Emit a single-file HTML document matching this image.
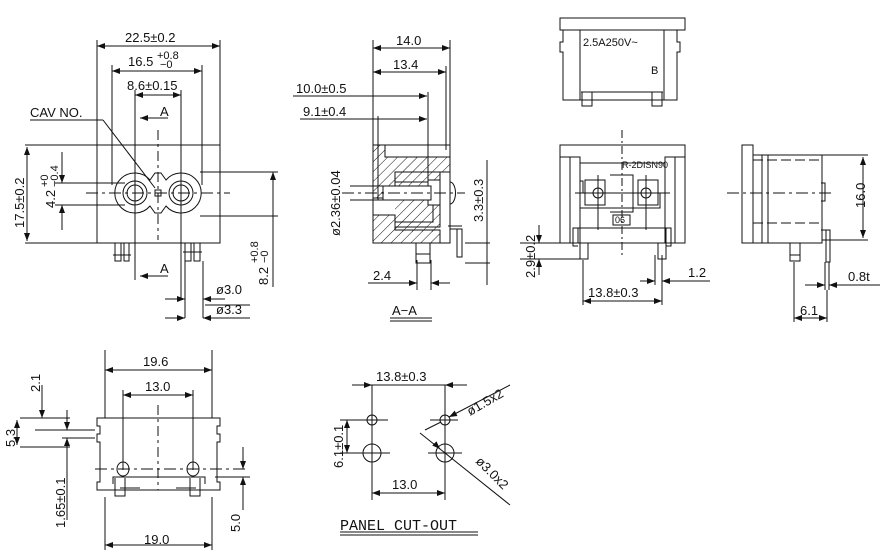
<!DOCTYPE html>
<html><head><meta charset="utf-8"><style>
html,body{margin:0;padding:0;background:#fff;}
svg{display:block}
text{font-family:"Liberation Sans",sans-serif;font-size:13px;fill:#111}
.s{font-size:11px}
</style></head><body>
<svg width="890" height="554" viewBox="0 0 890 554" xmlns="http://www.w3.org/2000/svg">
<defs>
<marker id="a" markerWidth="8" markerHeight="6" refX="8" refY="3" orient="auto-start-reverse"><path d="M0,0 L8,3 L0,6 z" fill="#111"/></marker>
<pattern id="h" width="7" height="7" patternUnits="userSpaceOnUse" patternTransform="rotate(45)"><line x1="0" y1="0" x2="0" y2="7" stroke="#111" stroke-width="1"/></pattern>
</defs>
<g stroke="#111" stroke-width="1" fill="none">
<!-- ===== FRONT VIEW ===== -->
<rect x="97" y="145" width="123" height="98"/>
<line x1="97" y1="40" x2="97" y2="145"/><line x1="220" y1="40" x2="220" y2="145"/>
<line x1="97" y1="46" x2="220" y2="46" marker-start="url(#a)" marker-end="url(#a)"/>
<line x1="112" y1="65" x2="112" y2="185"/><line x1="202" y1="65" x2="202" y2="185"/>
<line x1="112" y1="71" x2="202" y2="71" marker-start="url(#a)" marker-end="url(#a)"/>
<line x1="135" y1="90" x2="135" y2="280"/><line x1="181" y1="90" x2="181" y2="300"/>
<line x1="135" y1="95" x2="181" y2="95" marker-start="url(#a)" marker-end="url(#a)"/>
<line x1="140" y1="118" x2="168" y2="118" marker-start="url(#a)"/>
<line x1="140" y1="276" x2="168" y2="276" marker-start="url(#a)"/>
<line x1="30" y1="120" x2="103" y2="120"/><line x1="103" y1="120" x2="155" y2="188"/>
<path d="M150,180 A20,20 0 1 0 150,206 L155,213 L161,213 L166,206 A20,20 0 1 0 166,180 L161,173 L155,173 Z"/>
<circle cx="135" cy="193" r="12"/><circle cx="135" cy="193" r="8"/>
<circle cx="181" cy="193" r="12"/><circle cx="181" cy="193" r="8"/>
<rect x="155" y="190" width="6" height="6"/>
<line x1="86" y1="193" x2="230" y2="193" stroke-dasharray="12,4,3,4"/>
<line x1="158" y1="130" x2="158" y2="240" stroke-dasharray="10,4,3,4"/>
<line x1="25" y1="145" x2="97" y2="145"/><line x1="25" y1="243" x2="97" y2="243"/>
<line x1="27" y1="147" x2="27" y2="241" marker-start="url(#a)" marker-end="url(#a)"/>
<line x1="55" y1="183" x2="125" y2="183"/><line x1="55" y1="205" x2="125" y2="205"/>
<line x1="62" y1="152" x2="62" y2="183" marker-end="url(#a)"/><line x1="62" y1="230" x2="62" y2="205" marker-end="url(#a)"/>
<line x1="200" y1="172" x2="278" y2="172"/><line x1="200" y1="216" x2="278" y2="216"/>
<line x1="273" y1="172" x2="273" y2="287" marker-start="url(#a)"/>
<path d="M115,243 v18 h6 v-18 M124,243 v18 h5 v-18 M113,255 h18"/>
<path d="M185,243 v18 h6 v-18 M194,243 v18 h6 v-18 M183,252 h19"/>
<line x1="185" y1="261" x2="185" y2="318"/><line x1="203" y1="261" x2="203" y2="318"/>
<line x1="165" y1="299" x2="185" y2="299" marker-end="url(#a)"/><line x1="225" y1="299" x2="203" y2="299" marker-end="url(#a)"/>
<line x1="165" y1="318" x2="185" y2="318" marker-end="url(#a)"/><line x1="250" y1="318" x2="203" y2="318" marker-end="url(#a)"/>
<line x1="205" y1="305" x2="250" y2="305"/>
<!-- ===== A-A SECTION ===== -->
<rect x="373" y="145" width="77" height="98"/>
<path d="M373,145 h12 v12 h65 v15 h-55 v26 h-22 z" fill="url(#h)"/>
<path d="M373,215 h22 v15 h45 v13 h-67 z" fill="url(#h)"/>
<path d="M395,172 h45 v60 h-45" fill="url(#h)" stroke="none"/>
<path d="M395,172 h45 v55 h-45 M395,182 h38 v40 h-38"/>
<rect x="428" y="180" width="12" height="25" fill="#fff"/>
<path d="M383,186 h48 v14 h-48 z" fill="#fff"/>
<line x1="373" y1="40" x2="373" y2="145"/><line x1="450" y1="40" x2="450" y2="145"/><line x1="446" y1="66" x2="446" y2="150"/>
<line x1="373" y1="48" x2="450" y2="48" marker-start="url(#a)" marker-end="url(#a)"/>
<line x1="373" y1="72" x2="446" y2="72" marker-start="url(#a)" marker-end="url(#a)"/>
<line x1="293" y1="96" x2="427" y2="96" marker-end="url(#a)"/><line x1="428" y1="92" x2="428" y2="180"/>
<line x1="300" y1="119" x2="427" y2="119" marker-end="url(#a)"/><line x1="378" y1="116" x2="378" y2="200"/>
<line x1="350" y1="186" x2="383" y2="186"/><line x1="350" y1="200" x2="383" y2="200"/>
<line x1="342" y1="193" x2="465" y2="193" stroke-dasharray="12,4,3,4"/>
<path d="M450,182 a5,10 0 0 1 0,22"/>
<path d="M448,226 h14 M450,229 h12 v28 h-5 v-28"/>
<line x1="487" y1="160" x2="487" y2="285"/><line x1="465" y1="243" x2="490" y2="243"/><line x1="465" y1="263" x2="490" y2="263"/>
<path d="M416,243 v20 h14 v-20 M416,254 h14"/>
<line x1="417" y1="260" x2="417" y2="290"/><line x1="431" y1="260" x2="431" y2="290"/>
<line x1="368" y1="283" x2="417" y2="283" marker-end="url(#a)"/><line x1="450" y1="283" x2="431" y2="283" marker-end="url(#a)"/>
<line x1="390" y1="318" x2="432" y2="318"/><line x1="390" y1="321" x2="432" y2="321"/>
<!-- ===== TOP RIGHT VIEW ===== -->
<rect x="560" y="18" width="125" height="12"/>
<path d="M563,30 v12 h-3 v10 h3 v48 h114 v-48 h3 v-10 h-3 v-12"/>
<line x1="580" y1="30" x2="580" y2="100"/><line x1="664" y1="30" x2="664" y2="100"/>
<path d="M581,92 h82 M582,92 v14 h10 v-14 M652,92 v14 h10 v-14"/>
<!-- ===== MIDDLE RIGHT VIEW ===== -->
<rect x="560" y="145" width="125" height="98"/>
<path d="M560,157 h20 v86 M685,157 h-20 v86 M570,157 v86 M675,157 v86"/>
<path d="M580,163 h85 v30 h-5 v15 h-80 v-15 h3 v-12 h-3 z"/>
<path d="M585,180 h20 v25 h-20 z M638,180 h20 v25 h-20 z M610,175 h23 v37 h-23"/>
<circle cx="598" cy="193" r="5"/><circle cx="646" cy="193" r="5"/>
<line x1="598" y1="175" x2="598" y2="230"/><line x1="646" y1="175" x2="646" y2="230"/>
<line x1="575" y1="193" x2="670" y2="193"/>
<rect x="613" y="215" width="17" height="10"/>
<rect x="578" y="228" width="88" height="15"/>
<path d="M578,228 h-5 v18 h5 M666,228 h5 v18 h-5 M580,243 v16 h8 v-16 M658,243 v16 h8 v-16"/>
<line x1="622" y1="130" x2="622" y2="255" stroke-dasharray="8,3,2,3"/>
<line x1="520" y1="243" x2="575" y2="243"/><line x1="520" y1="259" x2="580" y2="259"/>
<line x1="539" y1="225" x2="539" y2="243" marker-end="url(#a)"/><line x1="539" y1="275" x2="539" y2="259" marker-end="url(#a)"/>
<line x1="583" y1="260" x2="583" y2="305"/><line x1="662" y1="255" x2="662" y2="305"/><line x1="655" y1="255" x2="655" y2="285"/>
<line x1="583" y1="301" x2="662" y2="301" marker-start="url(#a)" marker-end="url(#a)"/>
<line x1="640" y1="281" x2="655" y2="281" marker-end="url(#a)"/><line x1="710" y1="281" x2="662" y2="281" marker-end="url(#a)"/>
<!-- ===== SIDE VIEW ===== -->
<rect x="742" y="145" width="11" height="98"/>
<path d="M753,155 h69 v88 h-69"/>
<path d="M753,160 h68 M753,223 h68" stroke-dasharray="10,4"/>
<line x1="762" y1="155" x2="762" y2="243"/><line x1="768" y1="155" x2="768" y2="243"/>
<line x1="727" y1="193" x2="835" y2="193" stroke-dasharray="12,4,3,4"/>
<path d="M821,183 h4 v18 h-4"/>
<path d="M821,230 h5 v32 h4 v-32 h-4"/>
<path d="M790,243 v18 h10 v-18 M790,255 h10"/>
<line x1="822" y1="155" x2="868" y2="155"/><line x1="822" y1="240" x2="868" y2="240"/>
<line x1="863" y1="157" x2="863" y2="238" marker-start="url(#a)" marker-end="url(#a)"/>
<line x1="825" y1="262" x2="825" y2="290"/><line x1="829" y1="262" x2="829" y2="290"/>
<line x1="805" y1="285" x2="825" y2="285" marker-end="url(#a)"/><line x1="880" y1="285" x2="829" y2="285" marker-end="url(#a)"/>
<line x1="794" y1="262" x2="794" y2="322"/><line x1="827" y1="290" x2="827" y2="322"/>
<line x1="794" y1="318" x2="827" y2="318" marker-start="url(#a)" marker-end="url(#a)"/>
<!-- ===== BOTTOM LEFT VIEW ===== -->
<path d="M97,418 h123 v8 h-3 v8 h3 v8 h-3 v40 h3 v8 h-123 v-8 h3 v-40 h-3 v-8 h3 v-8 h-3 z"/>
<line x1="105" y1="350" x2="105" y2="418"/><line x1="212" y1="350" x2="212" y2="418"/>
<line x1="105" y1="370" x2="212" y2="370" marker-start="url(#a)" marker-end="url(#a)"/>
<line x1="123" y1="390" x2="123" y2="470"/><line x1="193" y1="390" x2="193" y2="470"/>
<line x1="123" y1="395" x2="193" y2="395" marker-start="url(#a)" marker-end="url(#a)"/>
<line x1="158" y1="405" x2="158" y2="490" stroke-dasharray="10,4,3,4"/>
<ellipse cx="123" cy="469" rx="6" ry="7"/><ellipse cx="193" cy="469" rx="6" ry="7"/>
<line x1="95" y1="469" x2="248" y2="469" stroke-dasharray="12,4,3,4"/>
<path d="M113,484 v-7 h92 v7 M115,478 v18 h10 v-18 M190,478 v18 h10 v-18 M120,488 h20 M176,488 h20"/>
<line x1="20" y1="418" x2="70" y2="418"/><line x1="20" y1="447" x2="70" y2="447"/>
<line x1="42" y1="385" x2="42" y2="418" marker-end="url(#a)"/>
<line x1="17" y1="420" x2="17" y2="445" marker-start="url(#a)" marker-end="url(#a)"/>
<line x1="35" y1="430" x2="95" y2="430"/><line x1="62" y1="438" x2="95" y2="438"/>
<line x1="67" y1="410" x2="67" y2="430" marker-end="url(#a)"/><line x1="67" y1="520" x2="67" y2="438" marker-end="url(#a)"/>
<line x1="215" y1="477" x2="250" y2="477"/>
<line x1="243" y1="447" x2="243" y2="469" marker-end="url(#a)"/><line x1="243" y1="510" x2="243" y2="477" marker-end="url(#a)"/>
<line x1="105" y1="497" x2="105" y2="550"/><line x1="212" y1="497" x2="212" y2="550"/>
<line x1="105" y1="545" x2="212" y2="545" marker-start="url(#a)" marker-end="url(#a)"/>
<!-- ===== PANEL CUT-OUT ===== -->
<line x1="372" y1="385" x2="372" y2="500"/><line x1="445" y1="385" x2="445" y2="500"/>
<line x1="352" y1="385" x2="372" y2="385" marker-end="url(#a)"/><line x1="467" y1="385" x2="445" y2="385" marker-end="url(#a)"/>
<line x1="372" y1="385" x2="445" y2="385"/>
<circle cx="372" cy="420" r="5"/><circle cx="445" cy="420" r="5"/>
<circle cx="372" cy="453" r="9"/><circle cx="445" cy="453" r="9"/>
<line x1="355" y1="420" x2="388" y2="420"/><line x1="430" y1="420" x2="458" y2="420"/>
<line x1="355" y1="453" x2="390" y2="453"/><line x1="428" y1="453" x2="462" y2="453"/>
<line x1="347" y1="420" x2="347" y2="453" marker-start="url(#a)" marker-end="url(#a)"/>
<line x1="340" y1="420" x2="360" y2="420"/><line x1="340" y1="453" x2="360" y2="453"/>
<line x1="372" y1="493" x2="445" y2="493" marker-start="url(#a)" marker-end="url(#a)"/>
<line x1="510" y1="385" x2="449" y2="417" marker-end="url(#a)"/><line x1="425" y1="430" x2="441" y2="422"/>
<line x1="420" y1="433" x2="510" y2="505"/><line x1="438" y1="447" x2="440" y2="449" marker-end="url(#a)"/>
<line x1="340" y1="532" x2="478" y2="532"/><line x1="340" y1="535" x2="478" y2="535"/>
</g>
<!-- ===== TEXT ===== -->
<text x="125" y="42">22.5±0.2</text>
<text x="128" y="66">16.5</text><text x="157" y="59" class="s">+0.8</text><text x="160" y="68" class="s">−0</text>
<text x="127" y="90">8.6±0.15</text>
<text x="160" y="116">A</text><text x="160" y="273">A</text>
<text x="30" y="117">CAV  NO.</text>
<text transform="translate(24,228) rotate(-90)">17.5±0.2</text>
<text transform="translate(55,208) rotate(-90)">4.2</text><text transform="translate(48,187) rotate(-90)" class="s">+0</text><text transform="translate(58,187) rotate(-90)" class="s">−0.4</text>
<text transform="translate(268,285) rotate(-90)">8.2</text><text transform="translate(258,263) rotate(-90)" class="s">+0.8</text><text transform="translate(268,263) rotate(-90)" class="s">−0</text>
<text x="216" y="294">ø3.0</text><text x="216" y="314">ø3.3</text>
<text x="396" y="45">14.0</text><text x="393" y="69">13.4</text>
<text x="296" y="93">10.0±0.5</text><text x="303" y="116">9.1±0.4</text>
<text transform="translate(340,236) rotate(-90)">ø2.36±0.04</text>
<text transform="translate(483,222) rotate(-90)">3.3±0.3</text>
<text x="373" y="280">2.4</text>
<text x="392" y="315">A−A</text>
<text x="583" y="46" class="s">2.5A250V~</text><text x="651" y="74" class="s">B</text>
<text x="622" y="168" style="font-size:9px">R-2DISN90</text><text x="615" y="223" style="font-size:9px">06</text>
<text transform="translate(535,278) rotate(-90)">2.9±0.2</text>
<text x="688" y="277">1.2</text><text x="588" y="297">13.8±0.3</text>
<text transform="translate(865,208) rotate(-90)">16.0</text>
<text x="848" y="281">0.8t</text><text x="800" y="315">6.1</text>
<text x="143" y="366">19.6</text><text x="145" y="391">13.0</text><text x="144" y="544">19.0</text>
<text transform="translate(40,392) rotate(-90)">2.1</text>
<text transform="translate(15,447) rotate(-90)">5.3</text>
<text transform="translate(65,528) rotate(-90)">1.65±0.1</text>
<text transform="translate(240,532) rotate(-90)">5.0</text>
<text x="376" y="381">13.8±0.3</text><text x="392" y="489">13.0</text>
<text transform="translate(343,468) rotate(-90)">6.1±0.1</text>
<text transform="translate(470,416) rotate(-30)">ø1.5x2</text>
<text transform="translate(475,462) rotate(45)">ø3.0x2</text>
<text x="340" y="530" style="font-family:'Liberation Mono',monospace;font-size:15px">PANEL CUT-OUT</text>
</svg>
</body></html>
